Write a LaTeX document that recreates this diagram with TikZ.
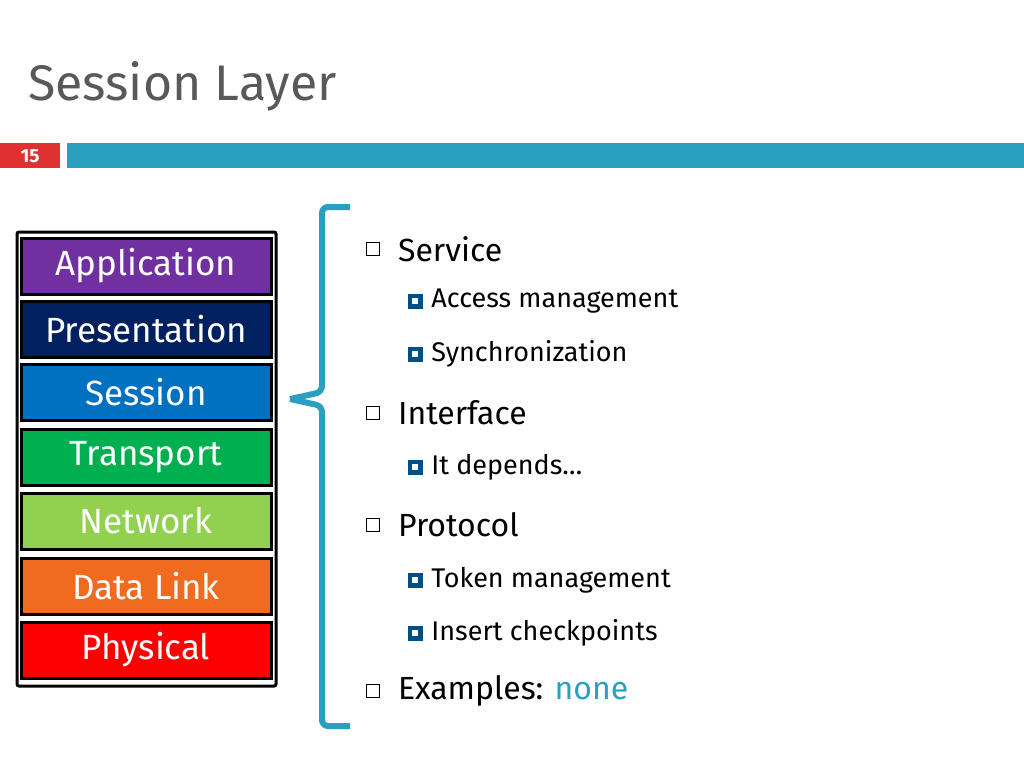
\documentclass[tikz,border=0pt]{standalone}
\usepackage{fontspec}
\setmainfont{Fira Sans}
\usetikzlibrary{positioning}
\definecolor{titlegray}{HTML}{595959}
\definecolor{barblue}{HTML}{2AA0C0}
\definecolor{numred}{HTML}{E03030}
\definecolor{appcol}{HTML}{7030A0}
\definecolor{prescol}{HTML}{002060}
\definecolor{sesscol}{HTML}{0070C0}
\definecolor{transcol}{HTML}{00B050}
\definecolor{netcol}{HTML}{92D050}
\definecolor{linkcol}{HTML}{F06A20}
\definecolor{physcol}{HTML}{FF0000}
\begin{document}
\begin{tikzpicture}[x=1pt,y=-1pt,
    layer/.style={draw=black, line width=3pt, minimum width=250pt, minimum height=56pt,
      text=white, font=\fontsize{35}{35}\selectfont, inner sep=0pt},
    item/.style={anchor=west, font=\fontsize{32}{32}\selectfont, inner sep=0pt},
    subitem/.style={anchor=west, font=\fontsize{27}{27}\selectfont, inner sep=0pt},
    hbox/.style={draw=black, line width=0.8pt, minimum size=13pt, inner sep=0pt},
    fbox/.style={draw=sesscol!70!black, fill=sesscol!70!black, minimum size=14pt, inner sep=0pt,
      path picture={\fill[white] ([shift={(-3pt,-3pt)}]path picture bounding box.center) rectangle ([shift={(3pt,3pt)}]path picture bounding box.center);}}
  ]
  \useasboundingbox (0,0) rectangle (1024,768);
  % title and bar
  \node[anchor=west, text=titlegray, font=\fontsize{50}{50}\selectfont, inner sep=0pt] (title) at (28,86) {Session Layer};
  \fill[numred] (0,143) rectangle (60,168);
  \node[text=white, font=\bfseries\fontsize{19}{19}\selectfont] (num) at (30,156) {15};
  \fill[barblue] (67,143) rectangle (1024,168);

  % protocol stack
  \draw[line width=3pt, rounded corners=2pt] (17,232) rectangle (276,686);
  \node[layer, fill=appcol] (app) at (146,266) {Application};
  \node[layer, fill=prescol] (pres) at (146,329) {Presentation};
  \node[layer, fill=sesscol] (sess) at (146,392) {Session};
  \node[layer, fill=transcol] (trans) at (146,457) {Transport};
  \node[layer, fill=netcol] (net) at (146,521) {Network};
  \node[layer, fill=linkcol] (link) at (146,586) {Data Link};
  \node[layer, fill=physcol] (phys) at (146,650) {Physical};

  % brace
  \draw[barblue, line width=6pt, line join=round, rounded corners=6pt]
    (350,207) -- (322,207) -- (322,392) -- (290,399);
  \draw[barblue, line width=6pt, line join=round, rounded corners=6pt]
    (290,399) -- (322,406) -- (322,726) -- (350,726);

  % bullets
  \node[hbox] (b1) at (373,249) {};
  \node[item, right=18pt of b1] (service) {Service};
  \node[fbox] (s1) at (415,301) {};
  \node[subitem, right=9pt of s1] (access) {Access management};
  \node[fbox] (s2) at (415,354) {};
  \node[subitem, right=9pt of s2] (sync) {Synchronization};
  \node[hbox] (b2) at (373,413) {};
  \node[item, right=18pt of b2] (iface) {Interface};
  \node[fbox] (s3) at (415,467) {};
  \node[subitem, right=9pt of s3] (depends) {It depends…};
  \node[hbox] (b3) at (373,525) {};
  \node[item, right=18pt of b3] (proto) {Protocol};
  \node[fbox] (s4) at (415,580) {};
  \node[subitem, right=9pt of s4] (token) {Token management};
  \node[fbox] (s5) at (415,633) {};
  \node[subitem, right=9pt of s5] (check) {Insert checkpoints};
  \node[hbox] (b4) at (373,691) {};
  \node[item, right=18pt of b4] (examples) {Examples: \textcolor{barblue}{none}};
\end{tikzpicture}
\end{document}
